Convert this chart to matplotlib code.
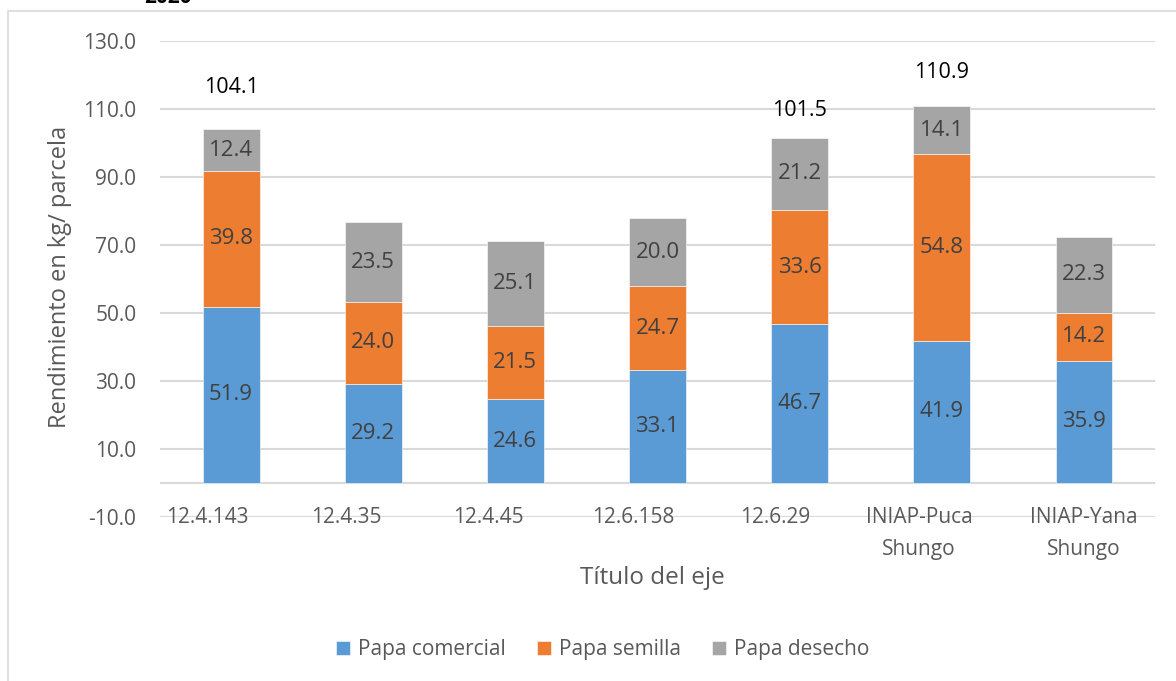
import matplotlib
matplotlib.use('Agg')
import matplotlib.pyplot as plt
import numpy as np
from matplotlib.patches import Rectangle

plt.rcParams['font.family'] = ['Open Sans', 'DejaVu Sans']

# rendimiento por clon / variedad (kg por parcela)
clones = ['12.4.143', '12.4.35', '12.4.45', '12.6.158', '12.6.29',
          'INIAP-Puca\nShungo', 'INIAP-Yana\nShungo']
papa_comercial = [51.9, 29.2, 24.6, 33.1, 46.7, 41.9, 35.9]
papa_semilla = [39.8, 24.0, 21.5, 24.7, 33.6, 54.8, 14.2]
papa_desecho = [12.4, 23.5, 25.1, 20.0, 21.2, 14.1, 22.3]

# totales rotulados sobre algunas barras
totales = {0: 104.1, 4: 101.5, 5: 110.9}
total_y = {0: 116.2, 4: 109.7, 5: 120.6}

series = [('Papa comercial', papa_comercial, '#5B9BD5'),
          ('Papa semilla', papa_semilla, '#ED7D31'),
          ('Papa desecho', papa_desecho, '#A5A5A5')]

# desplazamiento horizontal de las etiquetas de categoria
label_dx = [-0.17, -0.19, -0.19, -0.17, -0.17, -0.16, 0.0]

fig = plt.figure(figsize=(11.76, 6.81), dpi=100)
ax = fig.add_axes([160 / 1176, 1 - 517 / 681, (1155 - 160) / 1176, (517 - 41) / 681])

# marco del grafico
fig.patches.append(Rectangle((8 / 1176, -0.2), 1.2, 1.2 - 11 / 681,
                             transform=fig.transFigure, fill=False,
                             edgecolor='#D9D9D9', linewidth=1.2))

x = np.arange(len(clones))
bottom = np.zeros(len(clones))
for name, vals, color in series:
    vals = np.array(vals)
    ax.bar(x, vals, width=0.40, bottom=bottom, color=color, label=name,
           edgecolor='white', linewidth=0.4, zorder=3)
    for xi, b, v in zip(x, bottom, vals):
        ax.text(xi, b + v / 2, f'{v:.1f}', ha='center', va='center',
                fontsize=16, color='#404040', zorder=4)
    bottom += vals

for i, t in totales.items():
    ax.text(i, total_y[i], f'{t:.1f}', ha='center', va='center',
            fontsize=15.5, color='black')

ax.set_xlim(-0.5, len(clones) - 0.5)
ax.set_ylim(-10, 130)
ax.set_yticks(np.arange(-10, 131, 20))
ax.set_yticklabels([f'{v:.1f}' for v in np.arange(-10, 131, 20)])
ax.tick_params(axis='y', length=0, pad=17, labelsize=15, labelcolor='#595959')
ax.set_xticks([])
ax.grid(axis='y', color='#D9D9D9', linewidth=1.5, zorder=0)
ax.axhline(0, color='#D9D9D9', linewidth=1.5, zorder=1)
for s in ax.spines.values():
    s.set_visible(False)

for xi, lab, dx in zip(x, clones, label_dx):
    ax.text(xi + dx, -7.2, lab, ha='center', va='top', fontsize=15,
            color='#595959', linespacing=1.64, clip_on=False)

fig.text(60 / 1176, 1 - 277 / 681, 'Rendimiento en kg/ parcela',
         rotation=90, ha='center', va='center', fontsize=17, color='#595959')
fig.text(652 / 1176, 1 - 578 / 681, 'Título del eje', ha='center',
         va='center', fontsize=17.5, color='#595959')

fig.text(168 / 1176, 1 - 3 / 681, '2020', ha='center', va='baseline',
         fontsize=15, fontweight='bold', color='black')

fig.legend(loc='center', bbox_to_anchor=(603 / 1176, 1 - 650 / 681),
           ncol=3, frameon=False, fontsize=15, handlelength=0.65,
           handleheight=0.65, columnspacing=1.5, handletextpad=0.4,
           labelcolor='#595959')

fig.savefig('out.png', dpi=100)
